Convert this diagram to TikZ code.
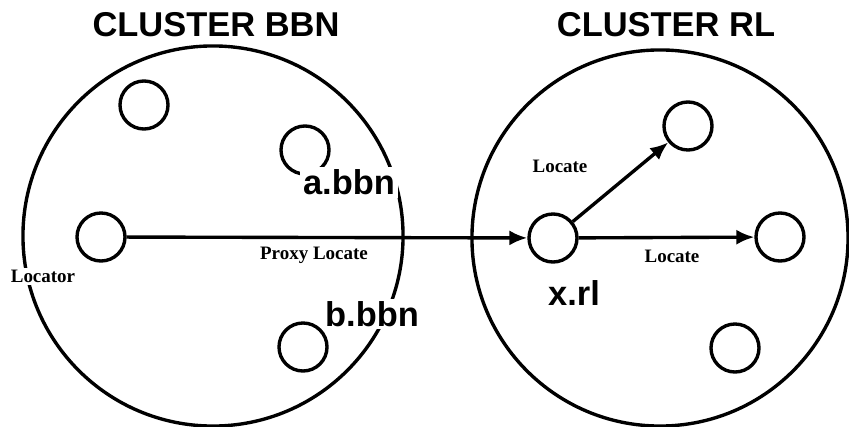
\documentclass[tikz,border=0pt]{standalone}
\usepackage{fontspec}
\setmainfont{Liberation Serif}
\setsansfont{Liberation Sans}
\usetikzlibrary{arrows.meta, positioning}

\begin{document}
\begin{tikzpicture}[
  x=0.025cm, y=-0.025cm,
  line width=2.4pt,
  cluster/.style={circle, draw, inner sep=0pt},
  host/.style={circle, draw, minimum size=1.2cm, inner sep=0pt},
  title/.style={font=\fontsize{24.5}{28}\selectfont\sffamily\bfseries},
  hostname/.style={font=\fontsize{24.5}{28}\selectfont\sffamily\bfseries, fill=white, inner sep=2pt},
  msg/.style={font=\fontsize{13.5}{15}\selectfont\bfseries, fill=white, inner sep=1.5pt},
  flow/.style={-{Latex[length=4.5mm,width=3.8mm]}}]

  \useasboundingbox (0,0) rectangle (849,427);

  \node[cluster, minimum size=9.5cm] (bbn) at (213,236) {};
  \node[cluster, minimum size=9.4cm] (rl) at (660,238) {};
  \node[title] (bbntitle) at (216,25) {CLUSTER BBN};
  \node[title] (rltitle) at (666,25) {CLUSTER RL};

  \node[host] (b1) at (144,105) {};
  \node[host] (abbn) at (305,150) {};
  \node[host] (loc) at (101,237) {};
  \node[host] (bbbn) at (303,347) {};

  \node[host] (xrl) at (553,238) {};
  \node[host] (r1) at (688,126) {};
  \node[host] (r2) at (780,237) {};
  \node[host] (r3) at (735,348) {};

  \node[hostname] (abbnlabel) at (349,182.5) {a.bbn};
  \node[hostname] (bbbnlabel) at (372,314) {b.bbn};
  \node[hostname] (xrllabel) at (574,293.5) {x.rl};
  \node[msg] (loclabel) at (43,276.5) {Locator};
  \node[msg] (proxylabel) at (314,255) {Proxy Locate};
  \node[msg] (loc1label) at (560,166) {Locate};
  \node[msg] (loc2label) at (672,256.5) {Locate};

  \draw[flow] (loc) -- (xrl);
  \draw[flow] (xrl) -- (r1);
  \draw[flow] (xrl) -- (r2);
\end{tikzpicture}
\end{document}
